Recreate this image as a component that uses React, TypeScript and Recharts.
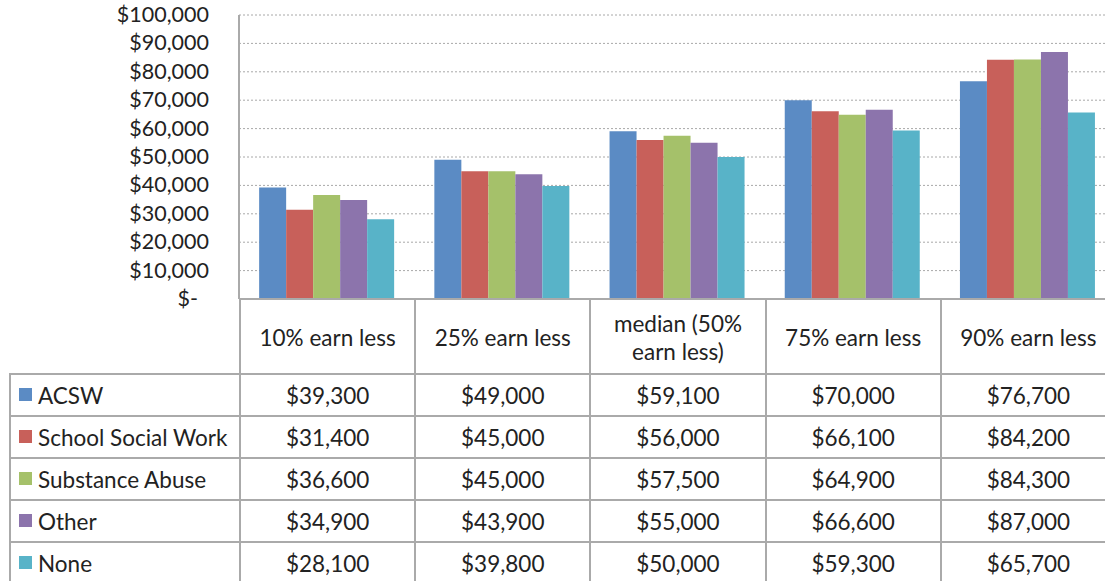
import { BarChart, Bar, XAxis, YAxis, CartesianGrid } from "recharts"

const categories = ["10% earn less", "25% earn less", "median (50% earn less)", "75% earn less", "90% earn less"]
const seriesNames = ["ACSW", "School Social Work", "Substance Abuse", "Other", "None"]
const seriesKeys = ["acsw", "school", "substance", "other", "none"]
const seriesColors = ["#5b8bc4", "#c8605a", "#a5c16a", "#8c74ac", "#58b3c8"]

const acsw = [39300, 49000, 59100, 70000, 76700]
const school = [31400, 45000, 56000, 66100, 84200]
const substance = [36600, 45000, 57500, 64900, 84300]
const other = [34900, 43900, 55000, 66600, 87000]
const none = [28100, 39800, 50000, 59300, 65700]

const yTicks = [0, 10000, 20000, 30000, 40000, 50000, 60000, 70000, 80000, 90000, 100000]

const seriesValues = [acsw, school, substance, other, none]

const data = categories.map((c, i) => {
	const row: Record<string, string | number> = { category: c }
	seriesKeys.forEach((k, s) => {
		row[k] = seriesValues[s][i]
	})
	return row
})

const FONT = "Lato, 'Open Sans', sans-serif"
const LINE = "#aaaaaa"

const money = (v: number) => (v === 0 ? "$-" : "$" + v.toLocaleString("en-US"))

function YTick(props: any) {
	const { x, y, payload } = props
	const v = payload.value as number
	return (
		<text
			x={v === 0 ? x - 11 : x}
			y={y}
			dy={7}
			textAnchor="end"
			fill="#222"
			fontSize={21.5}
			fontFamily={FONT}
		>
			{money(v)}
		</text>
	)
}

const cell: React.CSSProperties = {
	border: `2px solid ${LINE}`,
	textAlign: "center",
	padding: 0,
	height: 40,
}

export default function App() {
	return (
		<div
			style={{
				position: "fixed",
				left: 0,
				top: 0,
				width: 1105,
				height: 581,
				overflow: "hidden",
				background: "#fff",
				fontFamily: FONT,
				color: "#222",
			}}
		>
			<div style={{ position: "absolute", left: 0, top: 0 }}>
				<BarChart
					width={1120}
					height={320}
					data={data}
					margin={{ top: 15, right: 5, bottom: 20, left: 0 }}
					barCategoryGap="11.5%"
					barGap={0}
				>
					<CartesianGrid vertical={false} stroke="#a8a8a8" strokeDasharray="2 2" />
					<XAxis
						dataKey="category"
						height={1}
						tick={false}
						tickLine={false}
						axisLine={{ stroke: LINE, strokeWidth: 2 }}
					/>
					<YAxis
						width={239}
						domain={[0, 100000]}
						ticks={yTicks}
						interval={0}
						tickSize={0}
						tickMargin={30}
						tick={<YTick />}
						axisLine={{ stroke: LINE, strokeWidth: 2 }}
					/>
					{seriesKeys.map((k, s) => (
						<Bar key={k} dataKey={k} name={seriesNames[s]} fill={seriesColors[s]} isAnimationActive={false} />
					))}
				</BarChart>
			</div>

			{/* data table under the plot */}
			<table
				style={{
					position: "absolute",
					left: 9,
					top: 298,
					borderCollapse: "collapse",
					tableLayout: "fixed",
					width: 1106,
					fontSize: 22.5,
					fontFamily: FONT,
				}}
			>
				<colgroup>
					<col style={{ width: 230 }} />
					{categories.map((c) => (
						<col key={c} style={{ width: 175.2 }} />
					))}
				</colgroup>
				<thead>
					<tr>
						<th style={{ border: "none", height: 70 }} />
						{categories.map((c) => (
							<th
								key={c}
								style={{ ...cell, height: 70, fontWeight: "normal", lineHeight: "28px", padding: "3px 16px 0" }}
							>
								{c}
							</th>
						))}
					</tr>
				</thead>
				<tbody>
					{seriesNames.map((name, s) => (
						<tr key={name}>
							<td style={{ ...cell, textAlign: "left", paddingLeft: 8, whiteSpace: "nowrap" }}>
								<span
									style={{
										display: "inline-block",
										width: 13,
										height: 13,
										background: seriesColors[s],
										marginRight: 6,
										verticalAlign: "3px",
									}}
								/>
								{name}
							</td>
							{seriesValues[s].map((v, i) => (
								<td key={i} style={cell}>
									{money(v)}
								</td>
							))}
						</tr>
					))}
				</tbody>
			</table>
		</div>
	)
}
